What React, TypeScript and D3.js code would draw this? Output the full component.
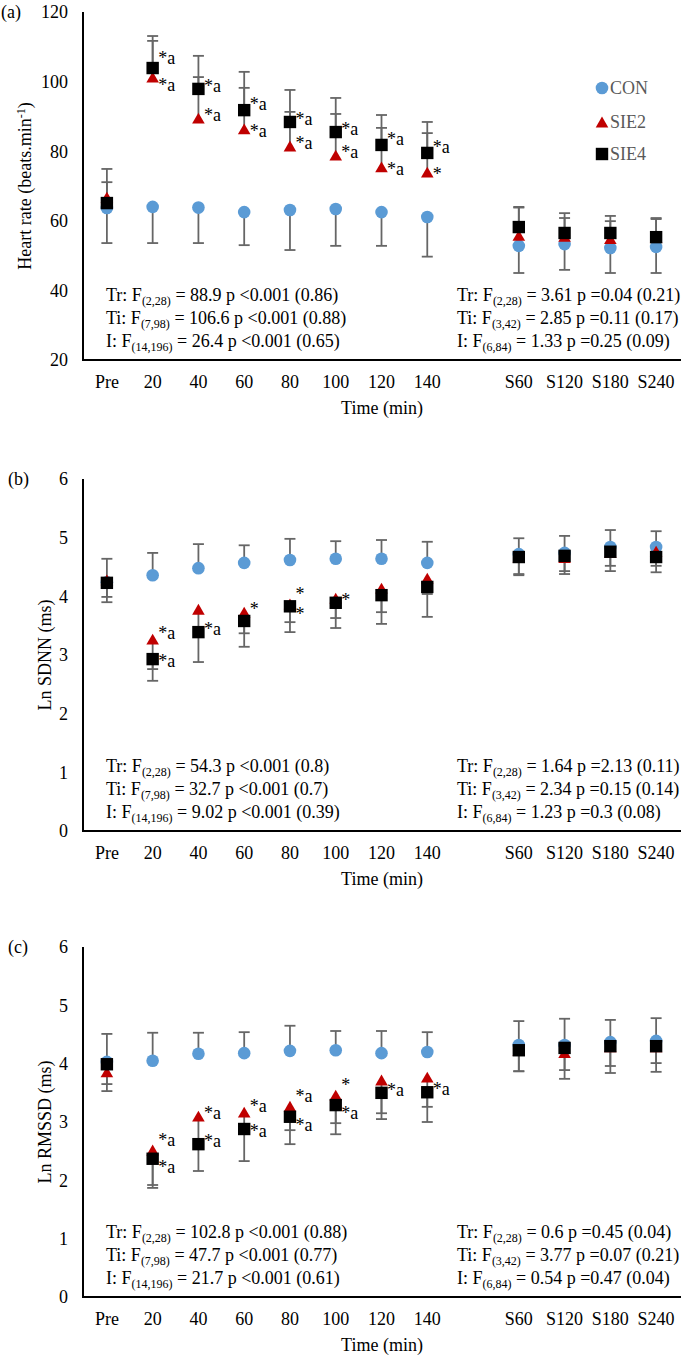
import React from "react";
import * as d3 from "d3";

// ---------- shared categories / series ----------
const categories = ["Pre", "20", "40", "60", "80", "100", "120", "140", "", "S60", "S120", "S180", "S240"];
const seriesNames = ["CON", "SIE2", "SIE4"];
const seriesColors = ["#5B9BD5", "#C00000", "#000000"];

// ---------- (a) Heart rate ----------
const hrTicks = [20, 40, 60, 80, 100, 120];
const hrCON = [63.7, 64.0, 63.8, 62.5, 63.1, 63.4, 62.5, 61.1, null, 52.8, 53.3, 52.2, 52.5];
const hrCONsd = [10.1, 10.4, 10.2, 9.5, 11.5, 10.6, 9.7, 11.4, null, 7.8, 7.4, 7.2, 7.5];
const hrSIE2 = [66.8, 101.3, 89.5, 86.4, 81.5, 78.9, 75.5, 74.0, null, 55.8, 55.5, 54.9, 55.2];
const hrSIE2sd = [8.1, 10.4, 11.8, 11.8, 9.8, 11.8, 11.2, 11.2, null, 8.0, 5.3, 5.0, 5.3];
const hrSIE4 = [65.1, 103.9, 97.9, 91.8, 88.4, 85.5, 81.8, 79.5, null, 58.2, 56.5, 56.5, 55.3];
const hrSIE4sd = [6.0, 9.2, 9.5, 11.0, 9.2, 9.8, 8.6, 8.9, null, 5.8, 5.7, 4.9, 5.5];
const hrSIE2ann = ["", "*a", "*a", "*a", "*a", "*a", "*a", "*", "", "", "", "", ""];
const hrSIE4ann = ["", "*a", "*a", "*a", "*a", "*a", "*a", "*a", "", "", "", "", ""];
const hrStatsLeft = [
  ["Tr: F", "(2,28)", " = 88.9 p <0.001 (0.86)"],
  ["Ti: F", "(7,98)", " = 106.6 p <0.001 (0.88)"],
  ["I: F", "(14,196)", " = 26.4 p <0.001 (0.65)"],
];
const hrStatsRight = [
  ["Tr: F", "(2,28)", " = 3.61 p =0.04 (0.21)"],
  ["Ti: F", "(3,42)", " = 2.85 p =0.11 (0.17)"],
  ["I: F", "(6,84)", " = 1.33 p =0.25 (0.09)"],
];

// ---------- (b) Ln SDNN ----------
const lnTicks = [0, 1, 2, 3, 4, 5, 6];
const sdnnCON = [4.24, 4.36, 4.48, 4.57, 4.62, 4.64, 4.64, 4.57, null, 4.72, 4.74, 4.84, 4.84];
const sdnnCONsd = [0.40, 0.38, 0.41, 0.30, 0.36, 0.30, 0.32, 0.36, null, 0.27, 0.29, 0.29, 0.27];
const sdnnSIE2 = [4.28, 3.27, 3.78, 3.73, 3.87, 3.97, 4.14, 4.31, null, 4.67, 4.66, 4.75, 4.77];
const sdnnSIE2sd = [0.29, 0.51, 0.38, 0.36, 0.31, 0.34, 0.41, 0.27, null, 0.29, 0.23, 0.23, 0.25];
const sdnnSIE4 = [4.23, 2.93, 3.39, 3.58, 3.83, 3.89, 4.02, 4.16, null, 4.67, 4.69, 4.76, 4.67];
const sdnnSIE4sd = [0.33, 0.37, 0.51, 0.44, 0.44, 0.43, 0.49, 0.51, null, 0.31, 0.31, 0.33, 0.26];
const sdnnSIE2ann = ["", "*a", "", "*", "*", "", "", "", "", "", "", "", ""];
const sdnnSIE4ann = ["", "*a", "*a", "", "*", "*", "", "", "", "", "", "", ""];
const sdnnStatsLeft = [
  ["Tr: F", "(2,28)", " = 54.3 p <0.001 (0.8)"],
  ["Ti: F", "(7,98)", " = 32.7 p <0.001 (0.7)"],
  ["I: F", "(14,196)", " = 9.02 p <0.001 (0.39)"],
];
const sdnnStatsRight = [
  ["Tr: F", "(2,28)", " = 1.64 p =2.13 (0.11)"],
  ["Ti: F", "(3,42)", " = 2.34 p =0.15 (0.14)"],
  ["I: F", "(6,84)", " = 1.23 p =0.3 (0.08)"],
];

// ---------- (c) Ln RMSSD ----------
const rmCON = [4.03, 4.05, 4.17, 4.18, 4.22, 4.23, 4.18, 4.20, null, 4.32, 4.32, 4.37, 4.39];
const rmCONsd = [0.48, 0.48, 0.36, 0.36, 0.43, 0.33, 0.38, 0.34, null, 0.41, 0.45, 0.38, 0.39];
const rmSIE2 = [3.86, 2.52, 3.10, 3.17, 3.27, 3.46, 3.72, 3.77, null, 4.23, 4.19, 4.29, 4.29];
const rmSIE2sd = [0.33, 0.65, 0.48, 0.32, 0.41, 0.48, 0.57, 0.51, null, 0.36, 0.45, 0.45, 0.43];
const rmSIE4 = [3.99, 2.37, 2.62, 2.88, 3.09, 3.29, 3.50, 3.51, null, 4.23, 4.27, 4.30, 4.30];
const rmSIE4sd = [0.34, 0.45, 0.46, 0.55, 0.47, 0.50, 0.45, 0.51, null, 0.36, 0.38, 0.34, 0.29];
const rmSIE2ann = ["", "*a", "*a", "*a", "*a", "*", "", "", "", "", "", "", ""];
const rmSIE4ann = ["", "*a", "*a", "*a", "*a", "*a", "*a", "*a", "", "", "", "", ""];
const rmStatsLeft = [
  ["Tr: F", "(2,28)", " = 102.8 p <0.001 (0.88)"],
  ["Ti: F", "(7,98)", " = 47.7 p <0.001 (0.77)"],
  ["I: F", "(14,196)", " = 21.7 p <0.001 (0.61)"],
];
const rmStatsRight = [
  ["Tr: F", "(2,28)", " = 0.6 p =0.45 (0.04)"],
  ["Ti: F", "(3,42)", " = 3.77 p =0.07 (0.21)"],
  ["I: F", "(6,84)", " = 0.54 p =0.47 (0.04)"],
];

const FONT = "'Liberation Serif', 'Times New Roman', serif";
const ERR = "#666666";

type Cfg = {
  label: string; labelX: number; top: number; bottom: number; domain: [number, number]; ticks: number[];
  title: React.ReactNode; titleX: number; means: (number | null)[][]; sds: (number | null)[][];
  dirs: number[]; ann: string[][]; statsL: string[][]; statsR: string[][]; legend: boolean;
};

const panels: Cfg[] = [
  {
    label: "(a)", labelX: 1, top: 12, bottom: 360, domain: [20, 120], ticks: hrTicks,
    title: (<><tspan>Heart rate (beats.min</tspan><tspan dy={-6} fontSize={12}>-1</tspan><tspan dy={6}>)</tspan></>),
    titleX: 25,
    means: [hrCON, hrSIE2, hrSIE4], sds: [hrCONsd, hrSIE2sd, hrSIE4sd], dirs: [-1, 1, 1],
    ann: [[], hrSIE2ann, hrSIE4ann], statsL: hrStatsLeft, statsR: hrStatsRight, legend: true,
  },
  {
    label: "(b)", labelX: 8, top: 479, bottom: 831, domain: [0, 6], ticks: lnTicks,
    title: "Ln SDNN (ms)", titleX: 45,
    means: [sdnnCON, sdnnSIE2, sdnnSIE4], sds: [sdnnCONsd, sdnnSIE2sd, sdnnSIE4sd], dirs: [1, -1, -1],
    ann: [[], sdnnSIE2ann, sdnnSIE4ann], statsL: sdnnStatsLeft, statsR: sdnnStatsRight, legend: false,
  },
  {
    label: "(c)", labelX: 8, top: 947, bottom: 1297, domain: [0, 6], ticks: lnTicks,
    title: "Ln RMSSD (ms)", titleX: 45,
    means: [rmCON, rmSIE2, rmSIE4], sds: [rmCONsd, rmSIE2sd, rmSIE4sd], dirs: [1, -1, -1],
    ann: [[], rmSIE2ann, rmSIE4ann], statsL: rmStatsLeft, statsR: rmStatsRight, legend: false,
  },
];

const x = d3.scalePoint<string>().domain(categories.map((_, i) => String(i))).range([84, 679]).padding(0.5);
const AXIS_LEFT = 83;
const AXIS_RIGHT = 681;

function Marker({ s, cx, cy }: { s: number; cx: number; cy: number }) {
  const c = seriesColors[s];
  if (s === 0) return <circle cx={cx} cy={cy} r={6.3} fill={c} />;
  if (s === 1) {
    const w = 6.3, h = 5.4;
    return <path d={`M${cx},${cy - h}L${cx + w},${cy + h}L${cx - w},${cy + h}Z`} fill={c} />;
  }
  return <rect x={cx - 6.2} y={cy - 6.2} width={12.4} height={12.4} fill={c} />;
}

function Stats({ lines, x0, bottom }: { lines: string[][]; x0: number; bottom: number }) {
  const offs = [59, 36, 13];
  return (
    <g>
      {lines.map((l, i) => (
        <text key={i} x={x0} y={bottom - offs[i]} fontSize={18} fill="#000" style={{ whiteSpace: "pre" }}>
          <tspan>{l[0]}</tspan>
          <tspan dy={4} fontSize={12}>{l[1]}</tspan>
          <tspan dy={-4}>{l[2]}</tspan>
        </text>
      ))}
    </g>
  );
}

function Panel({ cfg }: { cfg: Cfg }) {
  const y = d3.scaleLinear().domain(cfg.domain).range([cfg.bottom, cfg.top]);
  const idx = categories.map((_, i) => i);
  const annEls: React.ReactNode[] = [];
  [1, 2].forEach((s) => {
    idx.forEach((i) => {
      const lab = cfg.ann[s][i];
      const v = cfg.means[s][i];
      if (!lab || v == null) return;
      const cx = x(String(i))!;
      const cy = y(v);
      const o = s === 1 ? 2 : 1;
      const ov = cfg.means[o][i];
      let shift = 3;
      if (cfg.ann[o][i] && ov != null) {
        const gap = Math.abs(y(ov) - cy);
        const upper = cy < y(ov) || (cy === y(ov) && s === 1);
        if (gap < 14) shift = upper ? -4 : 14;
        else if (gap < 22) shift = upper ? 0 : 8;
      }
      annEls.push(
        <text key={`a${s}-${i}`} x={cx + 5.5} y={cy + shift} fontSize={18} fill="#000">{lab}</text>
      );
    });
  });

  return (
    <g fontFamily={FONT}>
      <text x={cfg.labelX} y={cfg.top + 6} fontSize={18}>{cfg.label}</text>
      {cfg.ticks.map((t) => (
        <text key={t} x={68} y={y(t)} dy="0.35em" textAnchor="end" fontSize={18}>{t}</text>
      ))}
      <text transform={`translate(${cfg.titleX},${(cfg.top + cfg.bottom) / 2}) rotate(-90)`} textAnchor="middle" dy="0.35em" fontSize={18}>
        {cfg.title}
      </text>
      {categories.map((c, i) => (c ? (
        <text key={i} x={x(String(i))} y={cfg.bottom + 22} dy="0.35em" textAnchor="middle" fontSize={18}>{c}</text>
      ) : null))}
      <text x={(AXIS_LEFT + AXIS_RIGHT) / 2} y={cfg.bottom + 48} dy="0.35em" textAnchor="middle" fontSize={18}>Time (min)</text>

      {/* error bars */}
      {[0, 1, 2].map((s) => idx.map((i) => {
        const v = cfg.means[s][i];
        const sd = cfg.sds[s][i];
        if (v == null || sd == null) return null;
        const cx = x(String(i))!;
        const y0 = y(v);
        const y1 = y(v + cfg.dirs[s] * sd);
        return (
          <g key={`e${s}-${i}`} stroke={ERR} strokeWidth={1.8}>
            <line x1={cx} x2={cx} y1={y0} y2={y1} />
            <line x1={cx - 5.5} x2={cx + 5.5} y1={y1} y2={y1} />
          </g>
        );
      }))}
      {/* markers */}
      {[0, 1, 2].map((s) => idx.map((i) => {
        const v = cfg.means[s][i];
        if (v == null) return null;
        return <Marker key={`m${s}-${i}`} s={s} cx={x(String(i))!} cy={y(v)} />;
      }))}
      {annEls}

      {/* axes */}
      <line x1={AXIS_LEFT} x2={AXIS_LEFT} y1={cfg.top} y2={cfg.bottom} stroke="#000" strokeWidth={2} />
      <line x1={AXIS_LEFT - 1} x2={AXIS_RIGHT} y1={cfg.bottom} y2={cfg.bottom} stroke="#000" strokeWidth={2} />

      <Stats lines={cfg.statsL} x0={106} bottom={cfg.bottom} />
      <Stats lines={cfg.statsR} x0={457} bottom={cfg.bottom} />

      {cfg.legend && seriesNames.map((n, s) => {
        const ly = [88, 122, 154][s];
        return (
          <g key={n}>
            <Marker s={s} cx={602} cy={ly} />
            <text x={610} y={ly} dy="0.35em" fontSize={18} fill="#595959">{n}</text>
          </g>
        );
      })}
    </g>
  );
}

export default function App() {
  return (
    <svg width={685} height={1360} style={{ position: "absolute", left: 0, top: 0, background: "#fff" }}>
      <rect width={685} height={1360} fill="#fff" />
      {panels.map((p) => <Panel key={p.label} cfg={p} />)}
    </svg>
  );
}
